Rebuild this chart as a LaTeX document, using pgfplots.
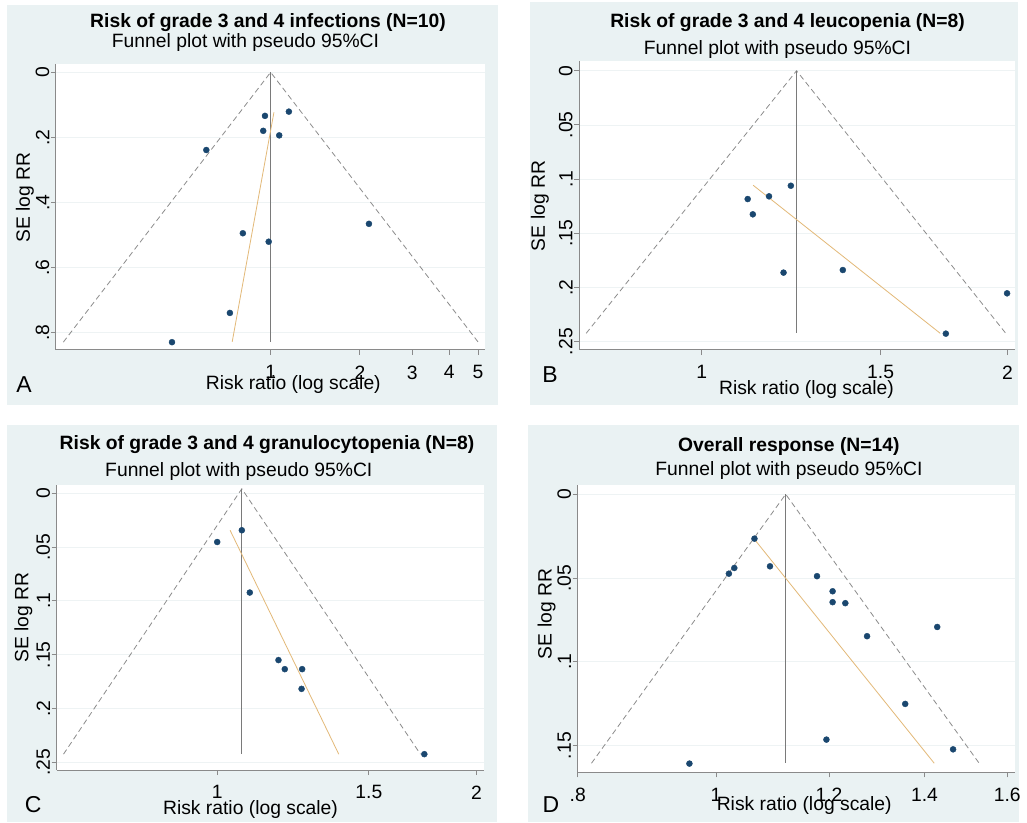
\documentclass[border=0pt]{standalone}
\usepackage{pgfplots}
\pgfplotsset{compat=1.18}
\usepackage{fontspec}
\setmainfont{Liberation Sans}
\definecolor{panelbg}{HTML}{EAF2F3}
\definecolor{axisgrey}{HTML}{8A8A8A}
\definecolor{gridc}{HTML}{EEF3F4}
\definecolor{dashgrey}{HTML}{8C8C8C}
\definecolor{vgrey}{HTML}{7A7A7A}
\definecolor{tanline}{HTML}{E3B978}
\definecolor{navyc}{HTML}{1A476F}
\newcommand\tl{\fontsize{19.3}{22}\selectfont}
\newcommand\bl{\fontsize{23}{26}\selectfont}
\pgfplotsset{myfunnel/.style={
 scale only axis, anchor=south west, y dir=reverse,
 axis x line*=bottom, axis y line*=left,
 axis line style={draw=axisgrey, line width=1pt, -},
 major tick style={draw=axisgrey, line width=0.9pt},
 tick align=outside, major tick length=5pt,
 xminorticks=false, yminorticks=false,
 ymajorgrids, grid style={draw=gridc, line width=0.8pt},
 axis background/.style={fill=white},
 ticklabel style={font=\tl, inner sep=1.5pt, text=black},
 yticklabel style={rotate=90, anchor=south},
 xticklabel style={anchor=north, yshift=-9pt},
 clip mode=individual,
},
funl/.style={draw=dashgrey, line width=0.8pt, dash pattern=on 5.5pt off 3.5pt},
vl/.style={draw=vgrey, line width=0.9pt},
eg/.style={draw=tanline, line width=0.8pt},
pts/.style={only marks, mark=*, mark size=3pt, color=navyc}
}
\begin{document}
\begin{tikzpicture}[x=1pt,y=1pt]
\path[use as bounding box] (0,0) rectangle (1027,822);
\fill[panelbg] (7,417) rectangle (498,817);
\fill[panelbg] (530,417) rectangle (1018,820);
\fill[panelbg] (7,0) rectangle (497,397);
\fill[panelbg] (528,0) rectangle (1019,397);

% Panel A
\begin{semilogxaxis}[myfunnel, at={(56pt,472pt)}, width=429pt, height=286pt,
 xmin=0.189, xmax=5.28, ymin=-0.0255, ymax=0.854,
 xtick={1,2,3,4,5}, xticklabels={1,2,3,4,5},
 ytick={0,0.2,0.4,0.6,0.8}, yticklabels={0,.2,.4,.6,.8}]
\addplot[funl] coordinates {(0.2,0.83) (1,0) (5.01,0.83)};
\addplot[vl] coordinates {(1,0) (1,0.83)};
\addplot[eg] coordinates {(1.026,0.123) (0.742,0.829)};
\addplot[pts] coordinates {(1.152,0.121) (0.957,0.134) (0.944,0.180) (1.069,0.194) (0.607,0.239) (2.145,0.466) (0.806,0.495) (0.985,0.521) (0.729,0.740) (0.465,0.830)};
\end{semilogxaxis}

% Panel B
\begin{semilogxaxis}[myfunnel, at={(579.3pt,472pt)}, width=435.7pt, height=289pt,
 xmin=0.758, xmax=2.034, ymin=-0.009, ymax=0.2577,
 xtick={1,1.5,2}, xticklabels={1,1.5,2},
 ytick={0,0.05,0.1,0.15,0.2,0.25}, yticklabels={0,.05,.1,.15,.2,.25}]
\addplot[funl] coordinates {(0.770,0.2423) (1.240,0) (1.992,0.2423)};
\addplot[vl] coordinates {(1.240,0) (1.240,0.2423)};
\addplot[eg] coordinates {(1.124,0.1057) (1.717,0.2423)};
\addplot[pts] coordinates {(1.224,0.1061) (1.110,0.1184) (1.165,0.1159) (1.123,0.1325) (1.204,0.1863) (1.377,0.1839) (1.998,0.2054) (1.739,0.2426)};
\end{semilogxaxis}

% Panel C
\begin{semilogxaxis}[myfunnel, at={(56.7pt,52pt)}, width=427.3pt, height=285pt,
 xmin=0.651, xmax=2.041, ymin=-0.0075, ymax=0.257,
 xtick={1,1.5,2}, xticklabels={1,1.5,2},
 ytick={0,0.05,0.1,0.15,0.2,0.25}, yticklabels={0,.05,.1,.15,.2,.25}]
\addplot[funl] coordinates {(0.663,0.2423) (1.068,-0.004) (1.722,0.2423)};
\addplot[vl] coordinates {(1.068,-0.004) (1.068,0.2423)};
\addplot[eg] coordinates {(1.035,0.0345) (1.384,0.2423)};
\addplot[pts] coordinates {(1.068,0.0345) (1.0,0.0454) (1.091,0.0923) (1.178,0.155) (1.198,0.1634) (1.255,0.1634) (1.253,0.1817) (1.740,0.2423)};
\end{semilogxaxis}

% Panel D
\begin{semilogxaxis}[myfunnel, at={(577.7pt,49.7pt)}, width=437.3pt, height=287.3pt,
 xmin=0.8, xmax=1.62, ymin=-0.0055, ymax=0.1659,
 xtick={0.8,1,1.2,1.4,1.6}, xticklabels={.8,1,1.2,1.4,1.6},
 ytick={0,0.05,0.1,0.15}, yticklabels={0,.05,.1,.15}]
\addplot[funl] coordinates {(0.818,0.1605) (1.119,0) (1.529,0.1605)};
\addplot[vl] coordinates {(1.119,0) (1.119,0.1605)};
\addplot[eg] coordinates {(1.064,0.0269) (1.422,0.1605)};
\addplot[pts] coordinates {(1.064,0.0265) (1.021,0.0474) (1.030,0.044) (1.091,0.043) (1.177,0.0489) (1.207,0.0579) (1.207,0.0644) (1.232,0.065) (1.429,0.0792) (1.276,0.0847) (1.357,0.1251) (1.195,0.1464) (1.466,0.1522) (0.958,0.1607)};
\end{semilogxaxis}

% Titles
\node[font=\tl\bfseries] at (268,799.3) {Risk of grade 3 and 4 infections (N=10)};
\node[font=\tl] at (245.5,779.3) {Funnel plot with pseudo 95\%CI};
\node[font=\tl\bfseries] at (787.5,799.7) {Risk of grade 3 and 4 leucopenia (N=8)};
\node[font=\tl] at (777.5,772.7) {Funnel plot with pseudo 95\%CI};
\node[font=\tl\bfseries] at (267,377) {Risk of grade 3 and 4 granulocytopenia (N=8)};
\node[font=\tl] at (238.8,350.3) {Funnel plot with pseudo 95\%CI};
\node[font=\tl\bfseries] at (788.8,375.3) {Overall response (N=14)};
\node[font=\tl] at (789,351) {Funnel plot with pseudo 95\%CI};
% x labels
\node[font=\tl] at (293.3,437) {Risk ratio (log scale)};
\node[font=\tl] at (806.5,432) {Risk ratio (log scale)};
\node[font=\tl] at (250.5,12) {Risk ratio (log scale)};
\node[font=\tl] at (804.2,16) {Risk ratio (log scale)};
% y labels
\node[font=\tl, rotate=90] at (25,624.5) {SE log RR};
\node[font=\tl, rotate=90] at (540,616) {SE log RR};
\node[font=\tl, rotate=90] at (23.3,204.5) {SE log RR};
\node[font=\tl, rotate=90] at (546.7,208) {SE log RR};
% panel letters
\node[font=\bl] at (24,437) {A};
\node[font=\bl] at (550,447) {B};
\node[font=\bl] at (33.3,17) {C};
\node[font=\bl] at (550.8,17) {D};
\end{tikzpicture}
\end{document}
